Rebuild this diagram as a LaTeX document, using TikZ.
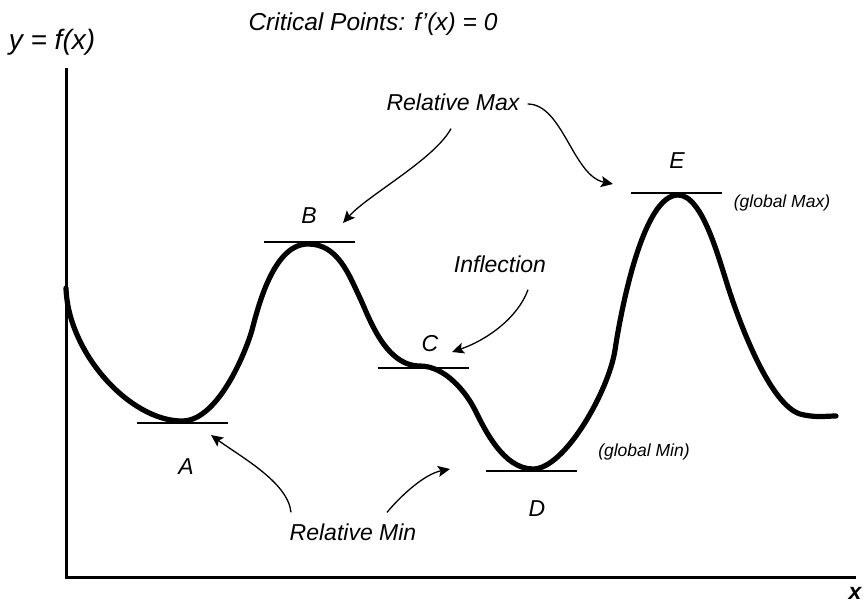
\documentclass[tikz,border=0pt]{standalone}
\usepackage{fontspec}
\setmainfont{Liberation Sans}
\usepackage{tikz}
\usetikzlibrary{arrows.meta, calc}
\tikzset{
	axisline/.style ={line width=3pt},
	fcurve/.style   ={line width=5.2pt, line join=round, line cap=round},
	tangent/.style  ={line width=1.5pt},
	% labels and call-out arrows
	lbl/.style      ={font=\fontsize{23}{27}\selectfont\itshape, inner sep=0pt},
	note/.style     ={font=\fontsize{17.5}{21}\selectfont\itshape, inner sep=0pt},
	callout/.style  ={-{Stealth[length=12pt, width=11pt, inset=2.5pt]}, line width=1.3pt},
}

\begin{document}
\begin{tikzpicture}[x=1pt, y=-1pt]
	\useasboundingbox (0,0) rectangle (865,603);
	% axes
	\coordinate (origin) at (66,577);
	\draw[axisline] (66,68) -- (origin) -- (856,577);
	\node[lbl, font=\fontsize{28}{32}\selectfont\itshape] (ylab) at (52,42) {y = f(x)};
	\node[lbl, font=\fontsize{23}{27}\selectfont\bfseries\itshape, anchor=base] (xlab) at (855,599) {x};
	\node[lbl, font=\fontsize{24.5}{28}\selectfont\itshape] (title) at (373,24) {Critical Points: f’(x) = 0};
	% the function
	\draw[fcurve] (66,288) .. controls (68,353) and (130,421) .. (182,421)
		.. controls (220,421) and (248,345) .. (252,330)
		.. controls (259.5,301) and (275,244) .. (308,244)
		.. controls (338,244) and (349,275) .. (360,298)
		.. controls (369,317) and (385,366) .. (420,366)
		.. controls (445,366) and (466,392) .. (475,410)
		.. controls (484,428) and (503,469) .. (533,469)
		.. controls (565,469) and (609,390) .. (615,350)
		.. controls (621,310) and (643,195) .. (678,195)
		.. controls (703,195) and (719,260) .. (730,293)
		.. controls (744,335) and (772,405) .. (800,414)
		.. controls (815,418) and (826,416) .. (836,416);
	% critical points and their tangents
	\coordinate (A) at (182,423);
	\coordinate (B) at (309,242);
	\coordinate (C) at (423,368);
	\coordinate (D) at (531,471);
	\coordinate (E) at (676,193);
	\foreach \p in {A,B,C,D,E}
		\draw[tangent] ([xshift=-45.5]\p) -- ([xshift=45.5]\p);
	\node[lbl] (labA) at (186,467) {A};
	\node[lbl] (labB) at (309,216) {B};
	\node[lbl] (labC) at (430,344) {C};
	\node[lbl] (labD) at (537,509) {D};
	\node[lbl] (labE) at (677,161) {E};
	\node[note] (gmax) at (782,203) {(global Max)};
	\node[note] (gmin) at (644,452) {(global Min)};
	% call-outs
	\node[lbl] (relmax) at (453,102) {Relative Max};
	\node[lbl] (inflect) at (500,264) {Inflection};
	\node[lbl] (relmin) at (353,532) {Relative Min};
	\coordinate (toB) at (343,223);
	\coordinate (toE) at (613,184);
	\coordinate (toC) at (452,352);
	\coordinate (toA) at (211,435);
	\coordinate (toD) at (450,469);
	\draw[callout] ([shift={(-2,18)}]relmax.south) .. controls +(-17,31) and +(25,-28) .. (toB);
	\draw[callout] ([shift={(8,2)}]relmax.east) .. controls +(35,0) and +(-40,-8) .. (toE);
	\draw[callout] ([shift={(28,17)}]inflect.south) .. controls +(-10,28) and +(35,-12) .. (toC);
	\draw[callout] ([shift={(-62,-11)}]relmin.north) .. controls +(-3,-30) and +(30,22) .. (toA);
	\draw[callout] ([shift={(34,-11)}]relmin.north) .. controls +(15,-18) and +(-25,5) .. (toD);
\end{tikzpicture}
\end{document}
